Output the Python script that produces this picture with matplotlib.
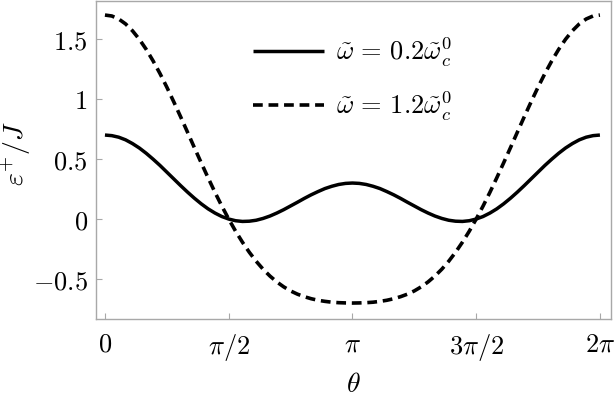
import numpy as np
import matplotlib
matplotlib.use("Agg")
import matplotlib.pyplot as plt

plt.rcParams['mathtext.fontset'] = 'cm'
plt.rcParams['font.family'] = 'serif'

theta_deg = list(range(0, 361, 5))
eps_low = [0.700, 0.695, 0.682, 0.660, 0.629, 0.592, 0.548, 0.499, 0.447, 0.391,
           0.335, 0.279, 0.225, 0.174, 0.127, 0.085, 0.050, 0.021, 0.000, -0.014,
           -0.020, -0.018, -0.010, 0.005, 0.025, 0.050, 0.078, 0.109, 0.140, 0.172,
           0.202, 0.229, 0.254, 0.273, 0.288, 0.297, 0.300,
           0.297, 0.288, 0.273, 0.254, 0.229, 0.202, 0.172, 0.140, 0.109, 0.078,
           0.050, 0.025, 0.005, -0.010, -0.018, -0.020, -0.014, 0.000, 0.021, 0.050,
           0.085, 0.127, 0.174, 0.225, 0.279, 0.335, 0.391, 0.447, 0.499, 0.548,
           0.592, 0.629, 0.660, 0.682, 0.695, 0.700]
eps_high = [1.700, 1.692, 1.667, 1.626, 1.569, 1.498, 1.414, 1.318, 1.213, 1.099,
            0.978, 0.853, 0.725, 0.596, 0.469, 0.344, 0.223, 0.108, 0.000, -0.101,
            -0.193, -0.277, -0.352, -0.418, -0.475, -0.524, -0.565, -0.599, -0.626, -0.647,
            -0.664, -0.677, -0.686, -0.693, -0.697, -0.699, -0.700,
            -0.699, -0.697, -0.693, -0.686, -0.677, -0.664, -0.647, -0.626, -0.599, -0.565,
            -0.524, -0.475, -0.418, -0.352, -0.277, -0.193, -0.101, 0.000, 0.108, 0.223,
            0.344, 0.469, 0.596, 0.725, 0.853, 0.978, 1.099, 1.213, 1.318, 1.414,
            1.498, 1.569, 1.626, 1.667, 1.692, 1.700]

xtick_vals = [0, np.pi / 2, np.pi, 3 * np.pi / 2, 2 * np.pi]
xtick_labels = [r'$0$', r'$\pi/2$', r'$\pi$', r'$3\pi/2$', r'$2\pi$']
ytick_vals = [-0.5, 0, 0.5, 1, 1.5]
ytick_labels = [r'$-0.5$', r'$0$', r'$0.5$', r'$1$', r'$1.5$']

theta = np.deg2rad(theta_deg)

fig = plt.figure(figsize=(6.16, 3.99), dpi=100)
ax = fig.add_axes([0.1558, 0.2005, 0.836, 0.797])

ax.plot(theta, eps_low, color='black', lw=2.5, solid_capstyle='butt',
        label=r'$\tilde{\omega}\,=\,0.2\tilde{\omega}_c^0$')
ax.plot(theta, eps_high, color='black', lw=2.6, dashes=(2.7, 1.6),
        label=r'$\tilde{\omega}\,=\,1.2\tilde{\omega}_c^0$')

ax.set_xlim(-0.114, 2 * np.pi + 0.14)
ax.set_ylim(-0.833, 1.817)
ax.set_xticks(xtick_vals)
ax.set_xticklabels(xtick_labels)
ax.set_yticks(ytick_vals)
ax.set_yticklabels(ytick_labels)

for s in ax.spines.values():
    s.set_color('#a8a8a8')
    s.set_linewidth(1.0)
ax.tick_params(direction='in', length=4, width=0.8, color='#a8a8a8',
               labelsize=19, top=False, right=False)
ax.tick_params(axis='x', pad=9)
ax.tick_params(axis='y', pad=6)

ax.set_xlabel(r'$\theta$', fontsize=20, va='center')
ax.xaxis.set_label_coords(0.5, -0.205)
ax.set_ylabel(r'$\varepsilon^{+}/J$', fontsize=20, va='center')
ax.yaxis.set_label_coords(-0.155, 0.52)

ax.legend(loc='upper left', bbox_to_anchor=(0.305, 0.89), frameon=False,
          fontsize=19, handlelength=2.7, labelspacing=0.75, handletextpad=0.45,
          borderpad=0, borderaxespad=0)

fig.savefig('out.png', dpi=100)
